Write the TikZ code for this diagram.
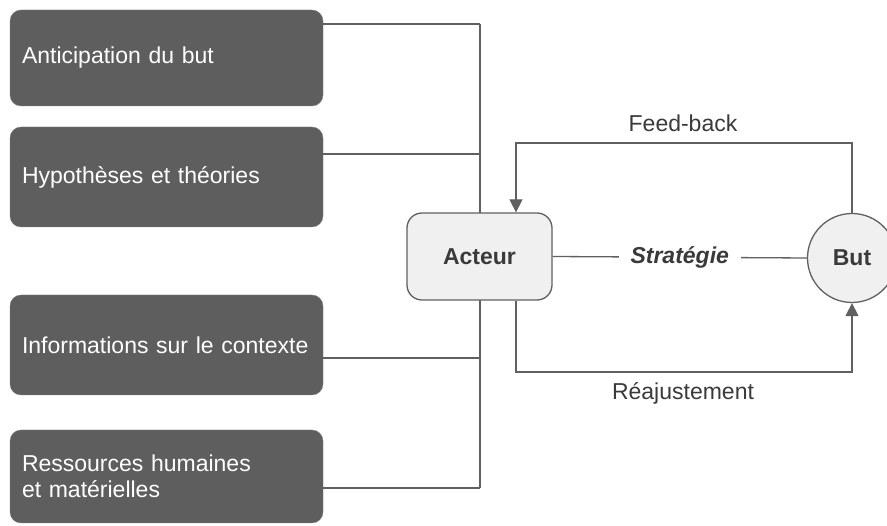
\documentclass[tikz,border=0pt]{standalone}
\usepackage{fontspec}
\setmainfont{Liberation Sans}
\usetikzlibrary{arrows.meta}
\definecolor{boxdark}{HTML}{5E5E5E}
\definecolor{boxlight}{HTML}{F0F0F0}
\definecolor{linegray}{HTML}{606060}
\definecolor{textgray}{HTML}{3A3A3A}
\begin{document}
\begin{tikzpicture}[x=1pt,y=-1pt,
  font=\fontsize{23}{26}\selectfont,
  darkbox/.style={draw=boxdark!80, fill=boxdark, rounded corners=11pt,
    minimum width=313pt, text width=289pt, inner xsep=12pt, align=left,
    text=white, anchor=center},
  wire/.style={draw=linegray, line width=1.3pt},
  arrowwire/.style={wire, -{Triangle[length=13pt,width=13pt]}},
  lbl/.style={text=textgray}
]
\clip (0,0) rectangle (887,526);
\fill[white] (0,0) rectangle (887,526);

% input boxes on the left
\node[darkbox, minimum height=96pt]  (b1) at (166.5,58)    {Anticipation du but};
\node[darkbox, minimum height=100pt] (b2) at (166.5,177)   {Hypothèses et théories};
\node[darkbox, minimum height=100pt] (b3) at (166.5,345)   {Informations sur le contexte};
\node[darkbox, minimum height=93pt]  (b4) at (166.5,476.5) {Ressources humaines\\et matérielles};

% junction points on the collecting bus
\coordinate (j1) at (480,24);
\coordinate (j2) at (480,154);
\coordinate (j3) at (480,358);
\coordinate (j4) at (480,488);

\draw[wire] (j1 -| b1.east) -- (j1);
\draw[wire] (j2 -| b2.east) -- (j2);
\draw[wire] (j3 -| b3.east) -- (j3);
\draw[wire] (j4 -| b4.east) -- (j4);
\draw[wire] (j1) -- (j4);

% actor and goal
\node[draw=linegray, line width=1.3pt, fill=boxlight, rounded corners=15pt,
      minimum width=145pt, minimum height=87pt, font=\fontsize{23}{26}\selectfont\bfseries,
      text=textgray] (acteur) at (479.5,256.5) {Acteur};
\node[draw=linegray, line width=1.3pt, fill=boxlight, circle, minimum size=89pt,
      inner sep=0pt, font=\fontsize{23}{26}\selectfont\bfseries, text=textgray]
      (but) at (852,258) {But};

% strategy link
\draw[wire] (acteur.east) -- node[fill=white, inner xsep=12pt, lbl,
  font=\fontsize{23}{26}\selectfont\bfseries\itshape] (strat) {Stratégie} (but.west);

% feedback loop
\coordinate (fb) at (516,143);
\coordinate (ra) at (516,372);
\draw[arrowwire] (but.north) |- (fb) -- (fb |- acteur.north);
\draw[arrowwire] (ra |- acteur.south) -- (ra) -| (but.south);

\node[lbl] (lfb) at (683,123) {Feed-back};
\node[lbl] (lra) at (683,393) {Réajustement};
\end{tikzpicture}
\end{document}
